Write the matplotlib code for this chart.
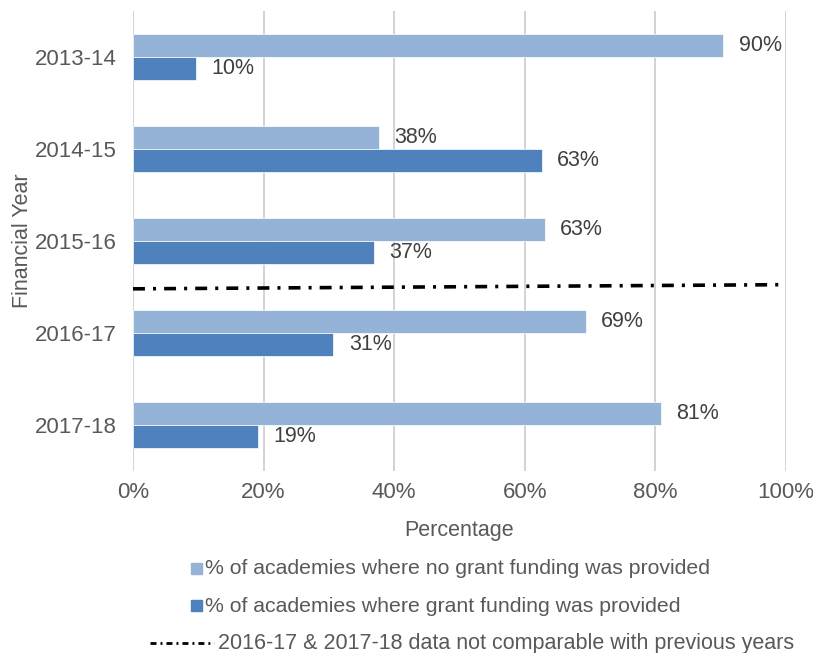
import numpy as np
import matplotlib.pyplot as plt
from matplotlib.patches import Rectangle
from matplotlib.lines import Line2D

plt.rcParams['font.family'] = ['Liberation Sans', 'DejaVu Sans']

# data (percent)
years = ['2013-14', '2014-15', '2015-16', '2016-17', '2017-18']
no_grant = [90.4, 37.6, 63.1, 69.3, 80.8]
grant = [9.6, 62.6, 36.9, 30.7, 19.2]
divider_y = [2.52, 2.475]  # break between comparable / non-comparable years

light = '#95B3D7'
dark = '#4F81BD'
grey = '#595959'

fig = plt.figure(figsize=(8.13, 6.53), dpi=100)
ax = fig.add_axes([133 / 813, 1 - 471 / 653, 653 / 813, 460 / 653])

pos = np.arange(len(years))
h = 0.25
ax.barh(pos - h / 2, no_grant, height=h, color=light, edgecolor='white', linewidth=0.5, zorder=3)
ax.barh(pos + h / 2, grant, height=h, color=dark, edgecolor='white', linewidth=0.5, zorder=3)

for i in range(len(years)):
    ax.annotate(f'{no_grant[i]:.0f}%', (no_grant[i], pos[i] - h / 2), xytext=(11, 0),
                textcoords='offset points', va='center', ha='left', fontsize=15.5, color='#404040')
    ax.annotate(f'{grant[i]:.0f}%', (grant[i], pos[i] + h / 2), xytext=(11, 0),
                textcoords='offset points', va='center', ha='left', fontsize=15.5, color='#404040')

lw = 2.6
ax.plot([0, 99], divider_y, color='black', lw=lw,
        linestyle=(0, (8.6 / lw, 5.8 / lw, 2.2 / lw, 5.8 / lw)),
        dash_capstyle='butt', zorder=4, clip_on=False)

ax.set_xlim(0, 100)
ax.set_ylim(4.5, -0.5)
ax.set_xticks(np.arange(0, 101, 20))
ax.set_xticklabels([f'{v}%' for v in range(0, 101, 20)])
ax.set_yticks(pos)
ax.set_yticklabels(years)
ax.tick_params(axis='both', length=0, labelsize=16, labelcolor=grey)
ax.tick_params(axis='y', pad=12)
ax.tick_params(axis='x', pad=8)
ax.grid(axis='x', color='#D3D3D3', lw=1.4, zorder=0)
for s in ax.spines.values():
    s.set_visible(False)

ax.set_xlabel('Percentage', fontsize=15.5, color=grey, labelpad=12)
ax.set_ylabel('Financial Year', fontsize=15.5, color=grey, labelpad=1)

# legend drawn below the plot
def px(x, y):
    return x / 813, 1 - y / 653

for y, col, label in [(569, light, '% of academies where no grant funding was provided'),
                      (606, dark, '% of academies where grant funding was provided')]:
    x0, y0 = px(191, y + 5)
    fig.add_artist(Rectangle((x0, y0), 11 / 813, 11 / 653, transform=fig.transFigure,
                             color=col))
    fig.text(*px(205, y), label, fontsize=15.3, color=grey, va='center', ha='left')

x0, y0 = px(150, 643)
x1, _ = px(214, 643)
llw = 2
fig.add_artist(Line2D([x0, x1], [y0, y0], transform=fig.transFigure, color='black', lw=llw,
                      linestyle=(0, (4.3 / llw, 2.9 / llw, 1.4 / llw, 2.9 / llw)),
                      dash_capstyle='butt'))
fig.text(*px(218, 643), '2016-17 & 2017-18 data not comparable with previous years',
         fontsize=15.5, color=grey, va='center', ha='left')

fig.savefig('out.png', dpi=100)
